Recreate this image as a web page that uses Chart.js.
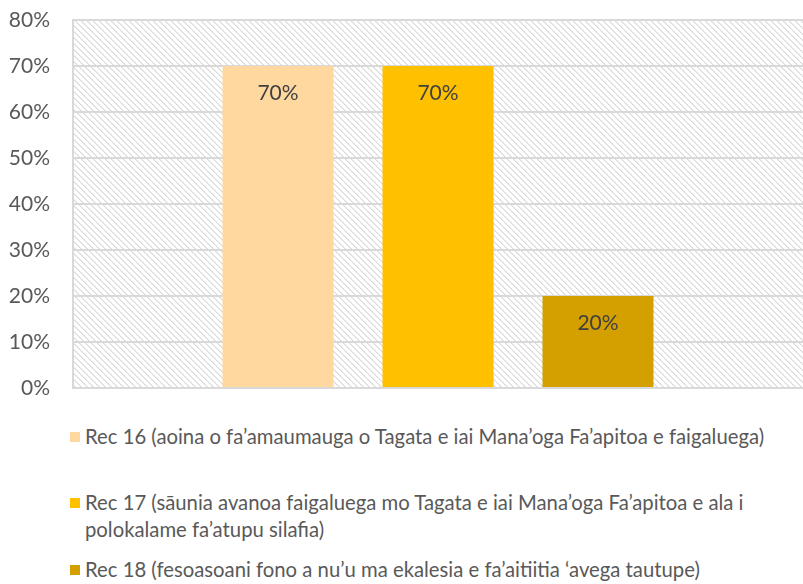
<!DOCTYPE html>
<html>
<head>
<meta charset="utf-8">
<script src="https://cdn.jsdelivr.net/npm/chart.js@4.4.0/dist/chart.umd.min.js"></script>
<style>
  body { margin: 0; background: #fff; }
  .wrap { position: relative; width: 803px; height: 584px; }
  #chart { position: absolute; left: 0; top: 0; }
  .legend { position: absolute; left: 0; top: 0; font-family: Lato, sans-serif; font-size: 20.3px; color: #595959; }
  .item { position: absolute; left: 70px; width: 700px; line-height: 27px; }
  .item .box { position: absolute; left: 0; top: 9px; width: 10px; height: 10px; }
  .item .txt { position: absolute; left: 15px; width: 690px; }
</style>
</head>
<body>
<div class="wrap">
  <canvas id="chart" width="803" height="400"></canvas>
  <div class="legend" id="legend"></div>
</div>
<script>
// Data
const categories = [''];
const seriesNames = [
    'Rec 16 (aoina o fa’amaumauga o Tagata e iai Mana’oga Fa’apitoa e faigaluega)',
    'Rec 17 (sāunia avanoa faigaluega mo Tagata e iai Mana’oga Fa’apitoa e ala i polokalame fa’atupu silafia)',
    'Rec 18 (fesoasoani fono a nu’u ma ekalesia e fa’aitiitia ‘avega tautupe)'
];
const rec16 = [70];
const rec17 = [70];
const rec18 = [20];
const yTicks = [0, 10, 20, 30, 40, 50, 60, 70, 80];

const colors = ['#FFD8A0', '#FFC000', '#D4A000'];
const legendTops = [423, 489, 556];

// hatched plot background
function makeHatch() {
    const c = document.createElement('canvas');
    c.width = 6; c.height = 6;
    const g = c.getContext('2d');
    g.fillStyle = '#ffffff';
    g.fillRect(0, 0, 6, 6);
    for (let i = 0; i < 6; i++) {
        g.fillStyle = '#d9d9d9';
        g.fillRect(i, i, 1, 1);
        g.fillStyle = '#ececec';
        g.fillRect((i + 1) % 6, i, 1, 1);
    }
    return g.createPattern(c, 'repeat');
}

const hatchPlugin = {
    id: 'hatch',
    beforeDraw(chart) {
        const { ctx, chartArea } = chart;
        ctx.save();
        ctx.fillStyle = makeHatch();
        ctx.fillRect(chartArea.left, chartArea.top, chartArea.right - chartArea.left, chartArea.bottom - chartArea.top);
        ctx.restore();
    }
};

// value labels inside bars
const labelPlugin = {
    id: 'barLabels',
    afterDatasetsDraw(chart) {
        const ctx = chart.ctx;
        ctx.save();
        ctx.font = '21px Lato, sans-serif';
        ctx.fillStyle = '#404040';
        ctx.textAlign = 'center';
        ctx.textBaseline = 'middle';
        chart.data.datasets.forEach((ds, i) => {
            chart.getDatasetMeta(i).data.forEach((bar, j) => {
                ctx.fillText(ds.data[j] + '%', bar.x, bar.y + 27);
            });
        });
        ctx.restore();
    }
};

const series = [rec16, rec17, rec18];
new Chart(document.getElementById('chart'), {
    type: 'bar',
    data: {
        labels: categories,
        datasets: series.map((d, i) => ({
            label: seriesNames[i],
            data: d,
            backgroundColor: colors[i],
            borderWidth: 0,
            categoryPercentage: 0.6575,
            barPercentage: 0.694
        }))
    },
    options: {
        responsive: false,
        animation: false,
        layout: { padding: { top: 20, right: 0, bottom: 12, left: 0 } },
        plugins: {
            legend: { display: false },
            tooltip: { enabled: false }
        },
        scales: {
            x: {
                ticks: { display: false },
                grid: { display: false, drawTicks: false },
                border: { display: true, color: '#d9d9d9', width: 2 },
                afterFit(scale) { scale.height = 0; scale.paddingLeft = 0; scale.paddingRight = 0; }
            },
            y: {
                min: 0,
                max: 80,
                afterBuildTicks(scale) { scale.ticks = yTicks.map(v => ({ value: v })); },
                ticks: {
                    padding: 23,
                    color: '#595959',
                    font: { family: 'Lato', size: 21 },
                    callback: v => v + '%'
                },
                grid: { color: '#d9d9d9', lineWidth: 2, drawTicks: false },
                border: { display: true, color: '#d9d9d9', width: 2 },
                afterFit(scale) { scale.width = 73; scale.paddingTop = 0; scale.paddingBottom = 0; }
            }
        }
    },
    plugins: [hatchPlugin, labelPlugin]
});

// HTML legend
const legend = document.getElementById('legend');
seriesNames.forEach((name, i) => {
    const item = document.createElement('div');
    item.className = 'item';
    item.style.top = legendTops[i] + 'px';
    item.innerHTML = '<span class="box" style="background:' + colors[i] + '"></span><span class="txt"></span>';
    item.querySelector('.txt').textContent = name;
    legend.appendChild(item);
});
</script>
</body>
</html>
